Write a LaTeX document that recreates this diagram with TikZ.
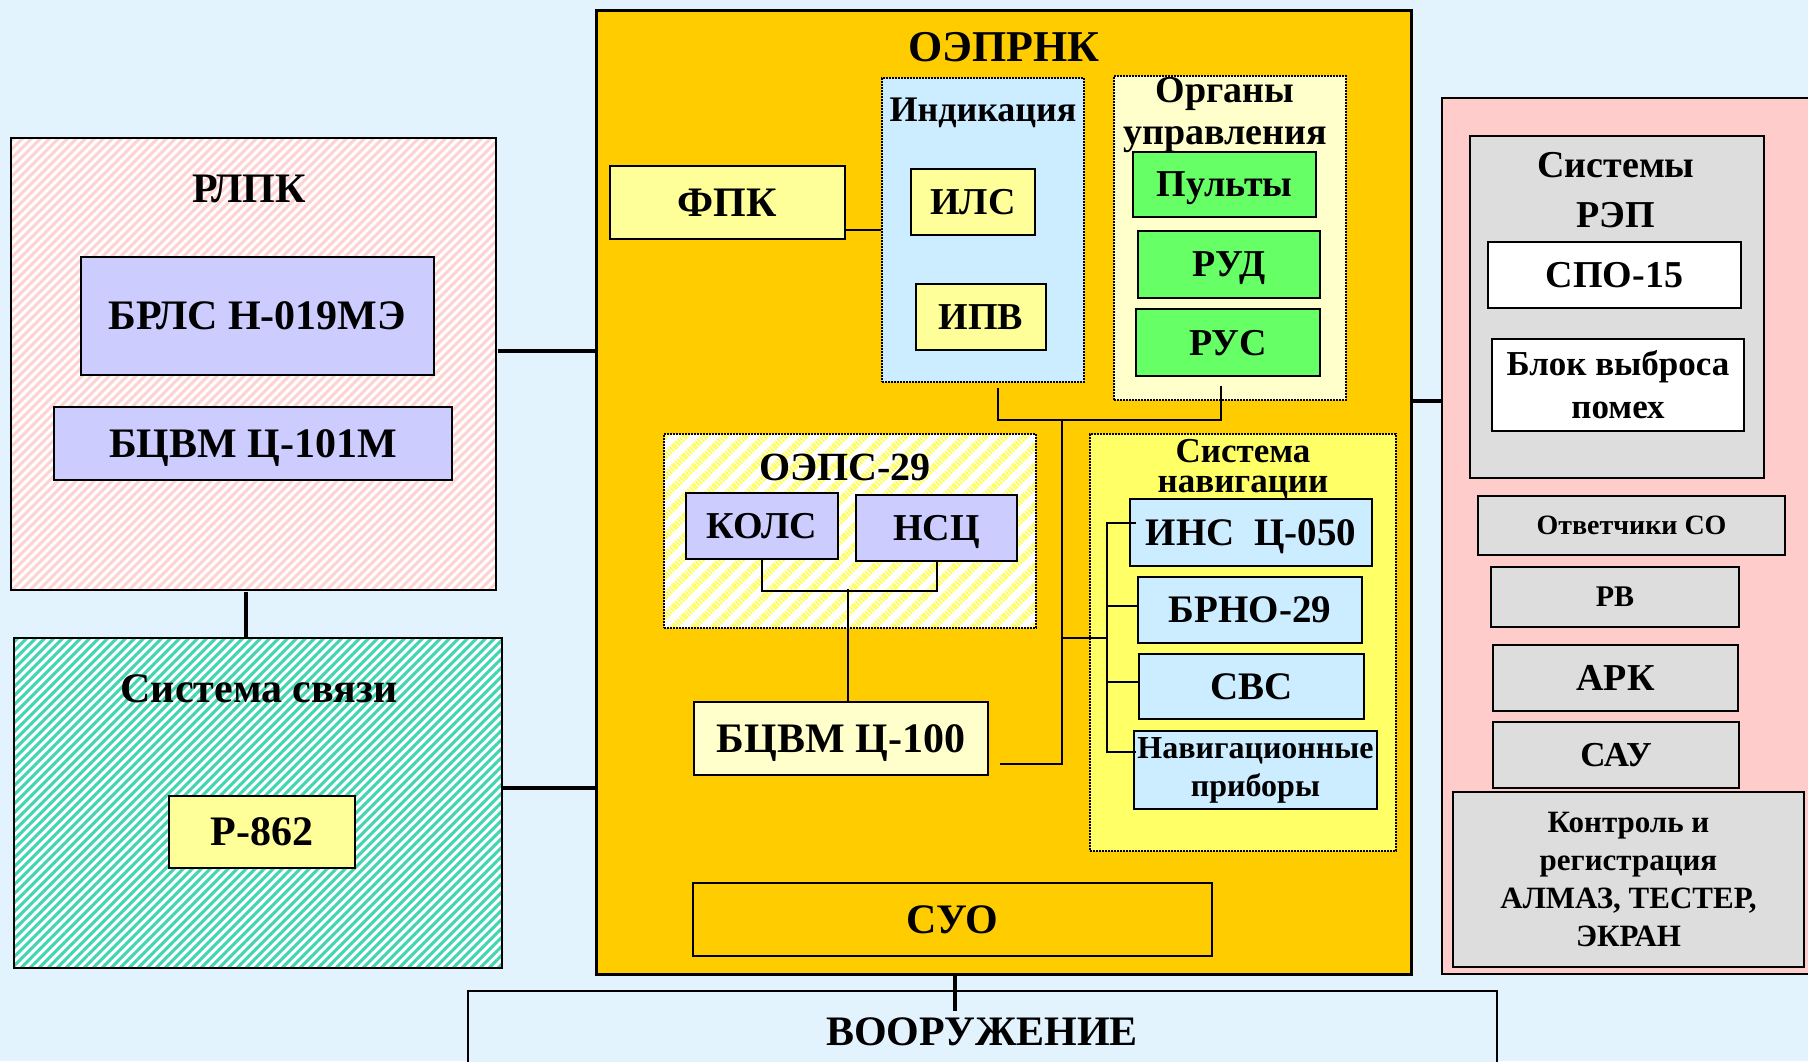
\documentclass[tikz,border=0pt]{standalone}
\usepackage{fontspec}
\setmainfont{Liberation Serif}
\usetikzlibrary{calc,patterns.meta}

\definecolor{bgblue}{RGB}{227,243,254}
\definecolor{oeorange}{RGB}{255,204,0}
\definecolor{lav}{RGB}{204,204,255}
\definecolor{paleyel}{RGB}{255,255,153}
\definecolor{cream}{RGB}{255,255,204}
\definecolor{skyb}{RGB}{204,236,255}
\definecolor{lgreen}{RGB}{102,255,102}
\definecolor{navyel}{RGB}{255,255,102}
\definecolor{rosy}{RGB}{255,204,204}
\definecolor{lgray}{RGB}{221,221,221}
\definecolor{hatchpink}{RGB}{255,210,210}
\definecolor{hatchteal}{RGB}{64,214,176}
\definecolor{hatchyel}{RGB}{255,255,80}

\tikzset{
  blk/.style={draw, line width=2pt, inner sep=0pt, align=center},
  cell/.style={blk, text depth=0pt},
  grp/.style={draw, line width=1.6pt, dash pattern=on 1.6pt off 1.4pt, inner sep=0pt},
  area/.style n args={4}{minimum width={#3-#1}, minimum height={#4-#2},
                         at={({(#1+#3)/2},{(#2+#4)/2})}},
  fs/.style 2 args={font=\bfseries\fontsize{#1}{#2}\selectfont},
  ttl/.style={inner sep=0pt, anchor=base, align=center},
  wire/.style={line width=2pt},
  bus/.style={line width=4.5pt},
}

\begin{document}
\begin{tikzpicture}[x=1pt,y=-1pt]

  % Canvas (pixel grid of the slide)
  \useasboundingbox (0,0) rectangle (1808,1061);
  \clip (0,0) rectangle (1808,1061);
  \fill[bgblue] (0,0) rectangle (1808,1061);

  % RLPK block
  \node[blk, preaction={fill=white},
        pattern={Lines[angle=45,distance=6.364pt,line width=3pt]}, pattern color=hatchpink,
        area={11}{138}{496}{590}] (rlpk) {};
  \node[ttl, fs={42}{46}] (rlpk-t) at (249,202) {РЛПК};
  \node[cell, fill=lav, fs={42}{46}, area={81}{257}{434}{375}] (brls) {БРЛС Н-019МЭ};
  \node[cell, fill=lav, fs={42}{46}, area={54}{407}{452}{480}] (bcvm101) {БЦВМ Ц-101М};

  % Communication system
  \node[blk, preaction={fill=white},
        pattern={Lines[angle=45,distance=6.364pt,line width=3pt]}, pattern color=hatchteal,
        area={14}{638}{502}{968}] (svyaz) {};
  \node[ttl, fs={42}{46}] (svyaz-t) at (259,702) {Система связи};
  \node[cell, fill=paleyel, fs={42}{46}, area={169}{796}{355}{868}] (r862) {Р-862};

  % OEPRNK (main complex)
  \node[blk, line width=3pt, fill=oeorange, area={596}{10}{1411}{974}] (oeprnk) {};
  \node[ttl, fs={44}{48}] (oeprnk-t) at (1004,61) {ОЭПРНК};
  \node[cell, fill=paleyel, fs={42}{46}, area={610}{166}{845}{239}] (fpk) {ФПК};

  % Indication group
  \node[grp, fill=skyb, area={882}{78}{1084}{382}] (ind) {};
  \node[ttl, fs={36}{40}] (ind-t) at (983,121) {Индикация};
  \node[cell, fill=paleyel, fs={38}{42}, area={911}{169}{1035}{235}] (ils) {ИЛС};
  \node[cell, fill=paleyel, fs={38}{42}, area={916}{284}{1046}{350}] (ipv) {ИПВ};

  % Controls group
  \node[grp, fill=cream, area={1114}{76}{1346}{400}] (org) {};
  \node[ttl, anchor=north, fs={38}{42}] (org-t) at (1225,77) {Органы\\управления};
  \node[cell, fill=lgreen, fs={38}{42}, area={1133}{152}{1316}{217}] (pult) {Пульты};
  \node[cell, fill=lgreen, fs={38}{42}, area={1138}{231}{1320}{298}] (rud) {РУД};
  \node[cell, fill=lgreen, fs={38}{42}, area={1136}{309}{1320}{376}] (rus) {РУС};

  % OEPS-29 group
  \node[grp, preaction={fill=white},
        pattern={Lines[angle=45,distance=14.142pt,line width=7pt]}, pattern color=hatchyel,
        area={664}{434}{1036}{628}] (oeps) {};
  \node[ttl, fs={40}{44}] (oeps-t) at (845,480) {ОЭПС-29};
  \node[cell, fill=lav, fs={38}{42}, area={686}{493}{838}{559}] (kols) {КОЛС};
  \node[cell, fill=lav, fs={38}{42}, area={856}{495}{1017}{561}] (nsc) {НСЦ};
  \node[cell, fill=cream, fs={42}{46}, area={694}{702}{988}{775}] (bcvm100) {БЦВМ Ц-100};

  % Navigation group
  \node[grp, fill=navyel, area={1090}{434}{1396}{851}] (nav) {};
  \node[ttl, anchor=north, fs={35}{30}] (nav-t) at (1243,439) {Система\\навигации};
  \node[cell, fill=skyb, fs={39}{43}, area={1130}{499}{1372}{566}] (ins) {ИНС\ \ Ц-050};
  \node[cell, fill=skyb, fs={39}{43}, area={1138}{577}{1362}{643}] (brno) {БРНО-29};
  \node[cell, fill=skyb, fs={39}{43}, area={1139}{654}{1364}{719}] (svs) {СВС};
  \node[blk, fill=skyb, fs={32}{38}, area={1134}{731}{1377}{809}] (navp) {Навигационные\\приборы};

  % Weapons control
  \node[cell, fill=oeorange, fs={42}{46}, area={693}{883}{1212}{956}] (suo) {СУО};

  % Right column: EW and avionics
  \node[blk, fill=rosy, area={1442}{98}{1840}{974}] (rep) {};
  \node[blk, fill=lgray, area={1470}{136}{1764}{478}] (repsys) {};
  \node[ttl, anchor=north, fs={38}{50}] (repsys-t) at (1616,152) {Системы\\РЭП};
  \node[cell, fill=white, fs={38}{42}, area={1488}{242}{1741}{308}] (spo) {СПО-15};
  \node[blk, fill=white, fs={35}{43}, area={1492}{339}{1744}{431}] (blok) {Блок выброса\\помех};
  \node[cell, fill=lgray, fs={28}{32}, area={1478}{496}{1785}{555}] (otv) {Ответчики СО};
  \node[cell, fill=lgray, fs={30}{34}, area={1491}{567}{1739}{627}] (rv) {РВ};
  \node[cell, fill=lgray, fs={38}{42}, area={1493}{645}{1738}{711}] (ark) {АРК};
  \node[cell, fill=lgray, fs={35}{39}, area={1493}{722}{1739}{788}] (sau) {САУ};
  \node[blk, fill=lgray, fs={31}{38}, area={1453}{792}{1804}{967}] (kontr)
    {Контроль и\\регистрация\\АЛМАЗ, ТЕСТЕР,\\ЭКРАН};

  % Weapons
  \node[blk, fill=bgblue, area={468}{991}{1497}{1090}] (vooruzh) {};
  \node[ttl, fs={42}{46}] (vooruzh-t) at (982,1045) {ВООРУЖЕНИЕ};

  % Thick links between the complexes
  \coordinate (rl-y) at (0,351);
  \coordinate (rs-x) at (246,0);
  \coordinate (sv-y) at (0,788);
  \coordinate (rep-y) at (0,401);
  \coordinate (vo-x) at (955,0);
  \draw[bus] (rlpk.east |- rl-y) -- (oeprnk.west |- rl-y);
  \draw[bus] (rlpk.south -| rs-x) -- (svyaz.north -| rs-x);
  \draw[bus] (svyaz.east |- sv-y) -- (oeprnk.west |- sv-y);
  \draw[bus] (oeprnk.east |- rep-y) -- (rep.west |- rep-y);
  \draw[bus] (oeprnk.south -| vo-x) -- ++(0,35);

  % Thin links inside OEPRNK
  \coordinate (navbus) at (1062,419);
  \coordinate (brk) at (1108,0);
  \draw[wire] (ind.west) -- (ind.west -| fpk.east);
  \draw[wire] ($(ind.south)+(15,5)$) |- ($(org.south)+(-9,19)$) -- ($(org.south)+(-9,-15)$);
  \draw[wire] ($(bcvm100.east)+(11,25)$) -| (navbus);
  \draw[wire] ([yshift=5]nav.west -| navbus) -- ([yshift=5]nav.west -| brk);
  \draw[wire] (kols.south) -- ++(0,31) -| (nsc.south);
  \draw[wire] ($(bcvm100.north)+(7,0)$) -- ++(0,-112);

  % Bracket to the navigation devices
  \draw[wire] ($(ins.west)+(7,-10)$) -| ($(navp.west)+(-26,-18)$) -- ($(navp.west)+(3,-18)$);
  \draw[wire] ([yshift=4]brno.west -| brk) -- ([yshift=4,xshift=1]brno.west);
  \draw[wire] ([yshift=5]svs.west -| brk) -- ([yshift=5,xshift=1]svs.west);

\end{tikzpicture}
\end{document}
